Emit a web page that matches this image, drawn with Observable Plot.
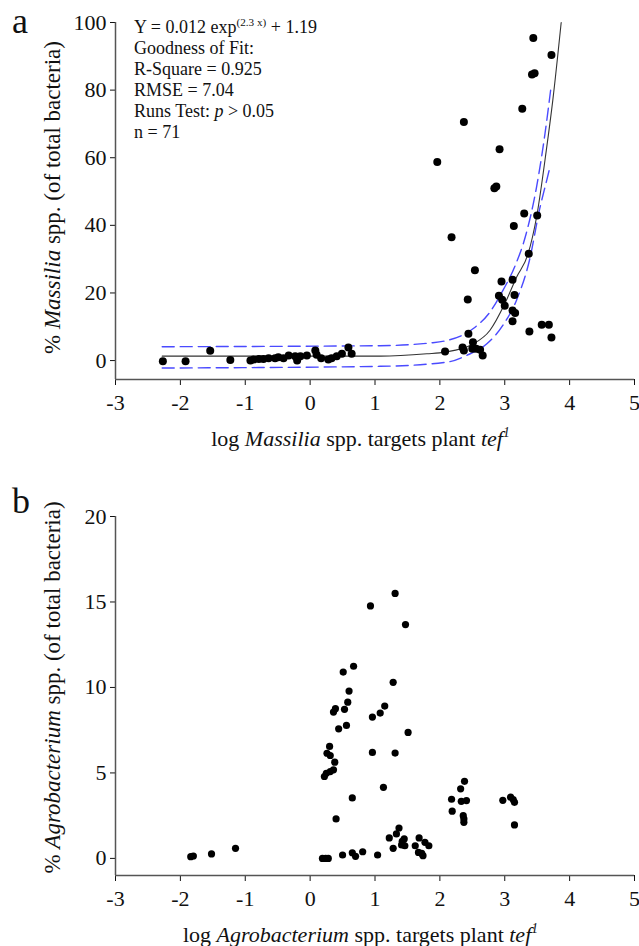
<!DOCTYPE html>
<html>
<head>
<meta charset="utf-8">
<script src="https://cdn.jsdelivr.net/npm/d3@7"></script>
<script src="https://cdn.jsdelivr.net/npm/@observablehq/plot@0.6"></script>
<style>
  html, body { margin: 0; padding: 0; background: #fff; }
  svg { display: block; }
</style>
</head>
<body>
<div id="chart"></div>
<script>
// ---------- data ----------
const xTicks = [-3, -2, -1, 0, 1, 2, 3, 4, 5];
const yTicksA = [0, 20, 40, 60, 80, 100];
const yTicksB = [0, 5, 10, 15, 20];

// panel a: log Massilia targets vs % Massilia
const massiliaPoints = [
  [-2.27, -0.2], [-1.92, -0.2], [-1.54, 2.9], [-1.23, 0.2],
  [-0.92, 0.0], [-0.87, 0.3], [-0.79, 0.5], [-0.72, 0.5], [-0.64, 0.7], [-0.54, 0.7],
  [-0.49, 1.0], [-0.41, 0.7], [-0.33, 1.5], [-0.23, 1.3], [-0.20, 0.0], [-0.15, 1.3],
  [-0.05, 1.5], [0.08, 3.0], [0.10, 1.7], [0.17, 0.7], [0.28, 0.3], [0.33, 0.7],
  [0.41, 1.3], [0.49, 2.0], [0.59, 3.9], [0.64, 2.0],
  [3.44, 95.4], [3.72, 90.4], [3.42, 84.6], [3.46, 85.0], [3.27, 74.5], [2.37, 70.6],
  [2.92, 62.5], [1.96, 58.7], [2.84, 51.0], [2.87, 51.5], [3.30, 43.5], [3.50, 42.9],
  [3.14, 39.8], [2.18, 36.5], [3.37, 31.6], [2.54, 26.7], [2.95, 23.4], [3.12, 23.9],
  [2.43, 18.1], [2.91, 19.2], [2.96, 18.0], [3.15, 19.4], [3.00, 16.2], [3.12, 14.8],
  [3.16, 14.1], [3.12, 11.6], [3.57, 10.6], [3.68, 10.6], [3.38, 8.6], [3.72, 6.8],
  [2.44, 7.9], [2.51, 5.4], [2.35, 3.9], [2.37, 3.0], [2.50, 3.5], [2.56, 3.5],
  [2.62, 3.2], [2.08, 2.7], [2.66, 1.5]
];

// fitted curve Y = 0.012 exp(2.3x) + 1.19
const fitCurve = [
  [-2.28, 1.3], [1.08, 1.3], [1.8, 2.0], [2.08, 2.5], [2.51, 4.9], [2.77, 8.9], [3.00, 16.8],
  [3.18, 24.6], [3.36, 31.6], [3.49, 42.4], [3.64, 62.1], [3.74, 76.9], [3.87, 100]
];
// 95% bands (blue dashed)
const upperBand = [
  [-2.28, 4.1], [1.08, 4.4], [1.85, 5.2], [2.10, 5.9], [2.51, 9.4], [2.77, 14.3],
  [2.97, 20.7], [3.15, 27.6], [3.33, 37.5], [3.49, 51.3], [3.62, 67.1], [3.71, 80.4]
];
const lowerBand = [
  [-2.28, -2.2], [1.08, -1.7], [2.10, -0.5], [2.41, 1.5], [2.72, 4.9], [2.97, 10.4],
  [3.18, 17.8], [3.38, 29.6], [3.54, 45.0], [3.64, 52.8], [3.69, 56.7]
];

// panel b: log Agrobacterium targets vs % Agrobacterium
const agroPoints = [
  [-1.84, 0.10], [-1.80, 0.14], [-1.52, 0.26], [-1.15, 0.59],
  [0.19, 0.0], [0.24, 0.0], [0.28, 0.0],
  [0.22, 4.79], [0.25, 4.98], [0.31, 5.08], [0.36, 5.18], [0.38, 5.63], [0.26, 6.15],
  [0.31, 6.02], [0.30, 6.55], [0.44, 7.58], [0.56, 7.78], [0.36, 8.56], [0.39, 8.76],
  [0.53, 8.72], [0.58, 9.14], [0.60, 9.79], [0.51, 10.9], [0.67, 11.24], [0.40, 2.31],
  [0.65, 3.54], [0.50, 0.20], [0.65, 0.33], [0.70, 0.12], [0.81, 0.39], [1.04, 0.20],
  [0.93, 14.77], [0.96, 8.27], [1.08, 8.50], [1.15, 8.91], [0.96, 6.20], [1.13, 4.16],
  [1.31, 15.5], [1.47, 13.68], [1.28, 10.3], [1.51, 7.37], [1.31, 6.16],
  [1.37, 1.78], [1.33, 1.43], [1.22, 1.20], [1.45, 1.14], [1.28, 0.59], [1.41, 0.79],
  [1.46, 0.74], [1.62, 0.74], [1.68, 1.20], [1.77, 0.94], [1.83, 0.74], [1.67, 0.35],
  [1.74, 0.16], [1.72, 0.29], [1.42, 1.00],
  [2.18, 3.46], [2.19, 2.76], [2.32, 4.07], [2.38, 4.51], [2.33, 3.34], [2.41, 3.38],
  [2.36, 2.50], [2.37, 2.31], [2.37, 2.11],
  [2.97, 3.40], [3.09, 3.58], [3.13, 3.44], [3.15, 3.28], [3.15, 1.96]
];

const fitText = [
  [{t: "Y = 0.012 exp"}, {t: "(2.3 x)", sup: true}, {t: " + 1.19"}],
  [{t: "Goodness of Fit:"}],
  [{t: "R-Square = 0.925"}],
  [{t: "RMSE = 7.04"}],
  [{t: "Runs Test: "}, {t: "p", i: true}, {t: " > 0.05"}],
  [{t: "n = 71"}]
];
const xTitleA = [{t: "log "}, {t: "Massilia", i: true}, {t: " spp. targets plant "}, {t: "tef", i: true}, {t: "1", i: true, sup: true}];
const yTitleA = [{t: "% "}, {t: "Massilia", i: true}, {t: " spp. (of total bacteria)"}];
const xTitleB = [{t: "log "}, {t: "Agrobacterium", i: true}, {t: " spp. targets plant "}, {t: "tef", i: true}, {t: "1", i: true, sup: true}];
const yTitleB = [{t: "% "}, {t: "Agrobacterium", i: true}, {t: " spp. (of total bacteria)"}];

// ---------- drawing ----------
const FONT = "'Liberation Serif', 'Times New Roman', Times, 'DejaVu Serif', serif";
const W = 639;
const axisColor = "#555";

function addRich(svg, x, y, parts, size, opts = {}) {
  const t = d3.select(svg).append("text")
    .attr("x", x).attr("y", y)
    .attr("font-family", FONT).attr("font-size", size)
    .attr("fill", "#111")
    .attr("text-anchor", opts.anchor || "start");
  if (opts.rotate) t.attr("transform", `rotate(${opts.rotate},${x},${y})`);
  let raised = false;
  for (const p of parts) {
    const s = t.append("tspan").text(p.t);
    if (p.i) s.attr("font-style", "italic");
    if (p.sup) { s.attr("font-size", size * 0.62).attr("dy", -size * 0.4); raised = true; }
    else if (raised) { s.attr("dy", size * 0.4); raised = false; }
  }
  return t;
}

function panel({height, marginTop, marginBottom, yDomain, yTicks, marks}) {
  return Plot.plot({
    width: W, height,
    marginLeft: 115, marginRight: 5, marginTop, marginBottom,
    style: {fontFamily: FONT, fontSize: "22px", background: "#fff", color: "#111"},
    x: {domain: [-3, 5], ticks: xTicks, tickFormat: d => String(d), tickSize: 6, tickPadding: 9, label: null},
    y: {domain: yDomain, ticks: yTicks, tickFormat: d => String(d), tickSize: 5, tickPadding: 4, label: null},
    marks: [
      Plot.ruleX([-3], {y1: yDomain[0], y2: yDomain[1], stroke: axisColor, strokeWidth: 1.5}),
      Plot.ruleY([yDomain[0]], {x1: -3, x2: 5, stroke: axisColor, strokeWidth: 1.5}),
      ...marks
    ]
  });
}

const yDomA = [-5.6, 100];
const plotA = panel({
  height: 470, marginTop: 22, marginBottom: 91, yDomain: yDomA, yTicks: yTicksA,
  marks: [
    Plot.line(upperBand, {x: d => d[0], y: d => d[1], stroke: "#4a4aff", strokeWidth: 1.4, strokeDasharray: "12,6", curve: "monotone-x"}),
    Plot.line(lowerBand, {x: d => d[0], y: d => d[1], stroke: "#4a4aff", strokeWidth: 1.4, strokeDasharray: "12,6", curve: "monotone-x"}),
    Plot.line(fitCurve, {x: d => d[0], y: d => d[1], stroke: "#333", strokeWidth: 1.1, curve: "monotone-x"}),
    Plot.dot(massiliaPoints, {x: d => d[0], y: d => d[1], r: 4, fill: "#000", stroke: null})
  ]
});

const yDomB = [-1, 20];
const plotB = panel({
  height: 476, marginTop: 46, marginBottom: 71, yDomain: yDomB, yTicks: yTicksB,
  marks: [
    Plot.dot(agroPoints, {x: d => d[0], y: d => d[1], r: 3.6, fill: "#000", stroke: null})
  ]
});

function decorate(plot, letter, letterY, xTitle, yTitle, yDom, yShift) {
  const sx = plot.scale("x"), sy = plot.scale("y");
  const cx = (sx.apply(-3) + sx.apply(5)) / 2 - 14;
  const axisY = sy.apply(yDom[0]);
  addRich(plot, cx, axisY + 67, xTitle, 22, {anchor: "middle"});
  const cy = (sy.apply(yDom[0]) + sy.apply(yDom[1])) / 2 + yShift;
  addRich(plot, 60, cy, yTitle, 23, {anchor: "middle", rotate: -90});
  addRich(plot, 12, letterY, [{t: letter}], 36);
}

decorate(plotA, "a", 33, xTitleA, yTitleA, yDomA, -3);
decorate(plotB, "b", 43, xTitleB, yTitleB, yDomB, -8);

// fit statistics block
fitText.forEach((line, i) => addRich(plotA, 134, 33 + i * 21, line, 18));

const host = document.getElementById("chart");
host.appendChild(plotA);
host.appendChild(plotB);
</script>
</body>
</html>
